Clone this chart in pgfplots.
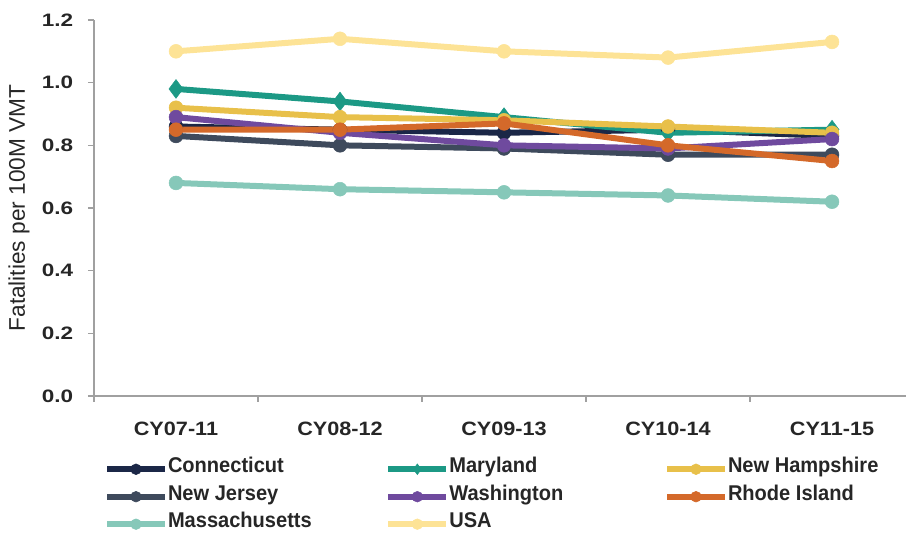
\documentclass[border=0pt]{standalone}
\usepackage{fontspec}
\setmainfont{Liberation Sans}
\newfontfamily\xtfont[FakeStretch=1.12]{Liberation Sans}
\newfontfamily\ytfont[FakeStretch=1.25]{Liberation Sans}
\newfontfamily\lgfont[FakeStretch=0.94]{Liberation Sans}
\usepackage{pgfplots}
\usepackage{pgfplotstable}
\pgfplotsset{compat=1.18}

\definecolor{ctc}{HTML}{1B2747}
\definecolor{mdc}{HTML}{1C9985}
\definecolor{nhc}{HTML}{E8C04A}
\definecolor{njc}{HTML}{3E4A5C}
\definecolor{wac}{HTML}{6F4A9E}
\definecolor{ric}{HTML}{D4692A}
\definecolor{mac}{HTML}{86C8B9}
\definecolor{usc}{HTML}{FDE396}
\definecolor{txt}{HTML}{262626}
\definecolor{axc}{HTML}{A0A0A0}

% fatalities per 100M VMT, 5-year periods
\pgfplotstableread{
x  ct   md   nh   nj   wa   ri   ma   usa
0  0.86 0.98 0.92 0.83 0.89 0.85 0.68 1.10
1  0.85 0.94 0.89 0.80 0.84 0.85 0.66 1.14
2  0.84 0.89 0.88 0.79 0.80 0.87 0.65 1.10
3  0.85 0.84 0.86 0.77 0.79 0.80 0.64 1.08
4  0.83 0.85 0.84 0.77 0.82 0.75 0.62 1.13
}\data

\pgfplotsset{
  ser/.style={color=#1, line width=4.5pt, mark=*, mark size=5.2pt,
    mark options={solid, line width=0.4pt, fill=#1}},
}

\begin{document}
\begin{tikzpicture}
\begin{axis}[
  at={(0,0)}, anchor=south west,
  scale only axis, width=609pt, height=282pt,
  xmin=-0.5, xmax=4.451, ymin=0, ymax=1.2,
  clip=false,
  axis x line=bottom, axis y line=left,
  axis line style={axc, line width=0.9pt, -},
  tick align=outside,
  tick style={axc, line width=0.9pt},
  major tick length=4.5pt,
  % ticks sit between categories; labels are moved half a category right
  xtick={-0.5,0.5,1.5,2.5,3.5},
  xticklabels={CY07-11,CY08-12,CY09-13,CY10-14,CY11-15},
  ytick={0,0.2,...,1.2},
  yticklabel={\pgfmathprintnumber[fixed,fixed zerofill,precision=1]{\tick}},
  /pgf/number format/assume math mode=true,
  yticklabel style={font=\ytfont\bfseries\fontsize{13.5}{15}\selectfont, text=txt,
    anchor=east, inner sep=0pt, xshift=-11pt},
  xticklabel style={font=\xtfont\bfseries\fontsize{14.5}{17}\selectfont, text=txt,
    anchor=base, inner sep=0pt, xshift=61.5pt, yshift=-25pt},
  ylabel={Fatalities per 100M VMT},
  every axis y label/.style={at={(axis description cs:-0.0924,0.5)},
    rotate=90, anchor=center, font=\fontsize{17}{20}\selectfont, text=txt},
  legend columns=3,
  legend cell align=left,
  legend style={draw=none, fill=none, inner sep=0pt, row sep=0pt, column sep=0pt,
    at={(axis description cs:0.012,-0.1576)}, anchor=north west,
    font=\lgfont\bfseries\fontsize{16}{18}\selectfont, text=txt,
    nodes={inner sep=0pt, text height=13pt, text depth=7.6pt}},
  legend image code/.code={
    \draw[#1, mark size=4pt, mark repeat=2, mark phase=2]
      plot coordinates {(0pt,0pt) (21.75pt,0pt) (43.5pt,0pt)};},
]
\addplot[ser=ctc] table[x=x, y=ct] {\data};
\addlegendentry{\makebox[163pt][l]{Connecticut}}
\addplot[ser=mdc, mark=diamond*, mark size=7pt] table[x=x, y=md] {\data};
\addlegendentry{\makebox[161pt][l]{Maryland}}
\addplot[ser=nhc] table[x=x, y=nh] {\data};
\addlegendentry{New Hampshire}
\addplot[ser=njc] table[x=x, y=nj] {\data};
\addlegendentry{\makebox[163pt][l]{New Jersey}}
\addplot[ser=wac] table[x=x, y=wa] {\data};
\addlegendentry{\makebox[161pt][l]{Washington}}
\addplot[ser=ric] table[x=x, y=ri] {\data};
\addlegendentry{Rhode Island}
\addplot[ser=mac] table[x=x, y=ma] {\data};
\addlegendentry{\makebox[163pt][l]{Massachusetts}}
\addplot[ser=usc] table[x=x, y=usa] {\data};
\addlegendentry{\makebox[161pt][l]{USA}}
\end{axis}
\pgfresetboundingbox
\useasboundingbox (-70.5pt,-106.5pt) rectangle (609pt,297pt);
\end{tikzpicture}
\end{document}
